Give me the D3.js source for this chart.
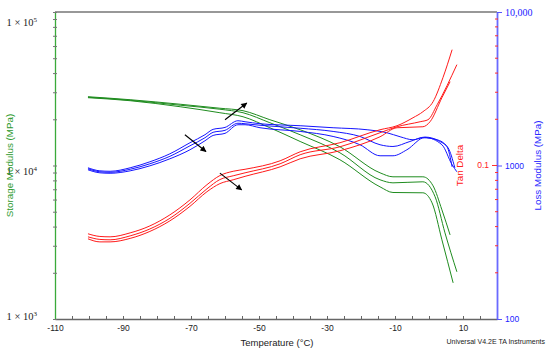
<!DOCTYPE html>
<html>
<head>
<meta charset="utf-8">
<script src="https://cdn.jsdelivr.net/npm/d3@7"></script>
<style>
  body { margin: 0; background: #fff; }
  text { font-family: "Liberation Sans", Arial, sans-serif; }
  .serif { font-family: "Liberation Serif", "Times New Roman", serif; }
</style>
</head>
<body>
<script>
// Chart data (temperature in C, value)
var storage1 = [[-100.3,28060],[-87.9,26830],[-73.2,25070],[-61.5,23610],[-54.7,22750],[-46.8,19870],[-37.9,17100],[-26.2,13240],[-14.4,8960],[-10.6,8440],[-1.8,8440],[1.2,7370],[3.8,5140],[6.2,3530]];
var storage2 = [[-100.3,27850],[-87.9,26620],[-73.2,24700],[-61.5,23260],[-54.7,22070],[-46.8,18990],[-37.9,15860],[-26.2,12100],[-14.4,8070],[-10.6,7710],[-1.8,7830],[1.8,6250],[4.7,3640],[8.2,2030]];
var storage3 = [[-100.3,27650],[-87.9,26430],[-73.2,24150],[-61.5,22070],[-54.7,20780],[-46.8,17620],[-37.9,14340],[-26.2,10900],[-14.4,7260],[-10.6,6670],[-1.8,6640],[0.9,5710],[3.8,3280],[7.1,1720]];

var loss1 = [[-100.3,966],[-96.8,923],[-93.8,917],[-87.9,966],[-82.1,1057],[-76.2,1192],[-70.3,1407],[-65.9,1586],[-63.5,1720],[-60.0,1770],[-56.2,1957],[-54.1,1928],[-49.7,1871],[-37.9,1816],[-28.2,1762],[-18.2,1710],[-12.4,1635],[-8.5,1539],[-4.7,1471],[-1.8,1516],[2.4,1471],[5.3,1324],[6.8,980]];
var loss2 = [[-100.3,952],[-96.8,910],[-93.8,903],[-87.9,945],[-82.1,1026],[-76.2,1148],[-70.3,1344],[-65.9,1516],[-63.5,1645],[-60.0,1695],[-56.2,1885],[-54.1,1871],[-49.7,1829],[-37.9,1749],[-28.2,1667],[-20.3,1546],[-14.4,1365],[-10.6,1330],[-5.6,1434],[-1.2,1532],[3.2,1434],[5.6,1305],[7.6,966]];
var loss3 = [[-100.3,938],[-96.8,896],[-93.8,890],[-87.9,923],[-82.1,995],[-76.2,1106],[-70.3,1266],[-65.9,1449],[-63.5,1570],[-60.0,1620],[-56.2,1843],[-54.1,1843],[-49.7,1762],[-37.9,1667],[-28.2,1546],[-20.3,1365],[-14.4,1157],[-10.6,1157],[-6.5,1266],[-1.2,1523],[3.8,1365],[6.8,1011],[8.2,910]];

var tan1 = [[-100.3,0.0359],[-96.8,0.0345],[-93.8,0.0343],[-87.9,0.0364],[-82.1,0.0404],[-76.2,0.0477],[-70.3,0.0597],[-65.3,0.0750],[-61.5,0.0860],[-57.6,0.0917],[-54.1,0.0945],[-43.8,0.1073],[-37.9,0.1228],[-26.2,0.1407],[-14.4,0.1710],[-9.4,0.1816],[-4.7,0.2047],[-1.8,0.2240],[1.2,0.2604],[4.1,0.3734],[6.8,0.5684]];
var tan2 = [[-100.3,0.0343],[-96.8,0.0330],[-93.8,0.0328],[-87.9,0.0348],[-82.1,0.0386],[-76.2,0.0453],[-70.3,0.0567],[-65.3,0.0705],[-61.5,0.0810],[-57.6,0.0857],[-54.1,0.0896],[-43.8,0.1026],[-37.9,0.1175],[-26.2,0.1324],[-14.4,0.1635],[-9.4,0.1788],[-2.6,0.1928],[-0.3,0.1987],[2.4,0.2489],[8.2,0.4540]];
var tan3 = [[-100.3,0.0333],[-96.8,0.0318],[-93.8,0.0318],[-87.9,0.0335],[-82.1,0.0372],[-76.2,0.0436],[-70.3,0.0542],[-65.3,0.0675],[-61.5,0.0762],[-57.6,0.0807],[-54.1,0.0850],[-43.8,0.0980],[-37.9,0.1106],[-26.2,0.1247],[-14.4,0.1539],[-9.4,0.1762],[-1.8,0.1788],[0.3,0.1928],[3.8,0.2765],[6.2,0.3516]];

// arrows (start, end) in each quantity's own units
var storageArrow = [[-60.0,19860],[-53.6,25530]];
var lossArrow = [[-71.8,1586],[-65.6,1233]];
var tanArrow = [[-61.5,0.0892],[-55.1,0.0694]];

// tick labels
var tempLabels = [-110,-90,-70,-50,-30,-10,10];
var storageLabels = [1e3,1e4,1e5];
var lossLabels = [100,1000,10000];
var tanLabels = [0.1];

// SVG area
var svgWidth = 550;
var svgHeight = 351;
var margin = { top: 12, right: 53, bottom: 32, left: 55 };
var chartWidth = svgWidth - margin.left - margin.right;
var chartHeight = svgHeight - margin.top - margin.bottom;

var svg = d3.select("body")
  .append("svg")
  .attr("width", svgWidth)
  .attr("height", svgHeight);

var defs = svg.append("defs");
defs.append("marker")
  .attr("id", "head")
  .attr("viewBox", "0 0 10 10")
  .attr("refX", 9)
  .attr("refY", 5)
  .attr("markerWidth", 7)
  .attr("markerHeight", 6)
  .attr("markerUnits", "userSpaceOnUse")
  .attr("orient", "auto")
  .append("path")
  .attr("d", "M0,0L10,5L0,10z")
  .attr("fill", "#000");

var chartGroup = svg.append("g")
  .attr("transform", `translate(${margin.left}, ${margin.top})`);

// scales
var xScale = d3.scaleLinear().domain([-110, 20]).range([0, chartWidth]);
var yStorage = d3.scaleLog().domain([1e3, 1e5]).range([chartHeight, 0]);
var yLoss = d3.scaleLog().domain([100, 10000]).range([chartHeight, 0]);
var yTan = d3.scaleLog().domain([0.01, 1]).range([chartHeight, 0]);

// minor log ticks
function logTicks(lo, hi) {
  var out = [];
  for (var p = lo; p < hi; p *= 10) {
    for (var k = 1; k < 10; k++) out.push(p * k);
  }
  out.push(hi);
  return out;
}

// top border
chartGroup.append("line")
  .attr("x1", 0).attr("x2", chartWidth)
  .attr("y1", 0).attr("y2", 0)
  .attr("stroke", "#333").attr("stroke-width", 1.2);

// bottom axis
var bottomAxis = d3.axisBottom(xScale)
  .tickValues(d3.range(-110, 20, 5))
  .tickSizeInner(-3)
  .tickSizeOuter(0)
  .tickPadding(6)
  .tickFormat(d => tempLabels.includes(d) ? String(d) : "");

var xg = chartGroup.append("g")
  .attr("transform", `translate(0, ${chartHeight})`)
  .call(bottomAxis);
xg.select(".domain").attr("stroke", "#666").attr("stroke-width", 1.3);
xg.selectAll(".tick line").attr("stroke", "#666");
xg.selectAll(".tick text").attr("font-size", 8.5).attr("fill", "#222");

// left axis (storage)
var leftAxis = d3.axisLeft(yStorage)
  .tickValues(logTicks(1e3, 1e5))
  .tickSizeInner(-2)
  .tickSizeOuter(0)
  .tickFormat("");
var lg = chartGroup.append("g").call(leftAxis);
lg.select(".domain").attr("stroke", "#3aaa3a").attr("stroke-width", 1.3);
lg.selectAll(".tick line").attr("stroke", "#777").attr("x1", -2).attr("x2", 2);

var expLabel = chartGroup.selectAll(".storageLabel")
  .data(storageLabels)
  .enter()
  .append("text")
  .attr("class", "serif")
  .attr("text-anchor", "end")
  .attr("x", -18)
  .attr("y", d => Math.min(Math.max(yStorage(d) + 9, 14), 308))
  .attr("font-size", 10.5)
  .attr("fill", "#222");
expLabel.append("tspan").text("1 \u00d7 10");
expLabel.append("tspan")
  .attr("dy", -4)
  .attr("font-size", 7)
  .text(d => Math.round(Math.log10(d)));

// right axis (loss + tan delta)
var rightAxis = d3.axisRight(yLoss)
  .tickValues(lossLabels)
  .tickSizeInner(5)
  .tickSizeOuter(0)
  .tickPadding(3)
  .tickFormat(d => d === 10000 ? "10,000" : String(d));
var rg = chartGroup.append("g")
  .attr("transform", `translate(${chartWidth}, 0)`)
  .call(rightAxis);
rg.select(".domain").attr("stroke", "#6a6aff").attr("stroke-width", 1.8);
rg.selectAll(".tick line").attr("stroke", "#5555ff");
rg.selectAll(".tick text")
  .attr("fill", "#2222ff")
  .attr("class", d => d === 10000 ? "serif" : null)
  .attr("font-size", d => d === 10000 ? 10 : 8.5);

// tan delta minor ticks on the right axis
chartGroup.append("g")
  .selectAll("line")
  .data(logTicks(0.01, 1).filter(d => !tanLabels.includes(d) && d > 0.01 && d < 1))
  .enter()
  .append("line")
  .attr("x1", chartWidth - 2)
  .attr("x2", chartWidth + 1)
  .attr("y1", d => yTan(d))
  .attr("y2", d => yTan(d))
  .attr("stroke", "#ff3030");

chartGroup.selectAll(".tanTick")
  .data(tanLabels)
  .enter()
  .append("line")
  .attr("x1", chartWidth - 5)
  .attr("x2", chartWidth)
  .attr("y1", d => yTan(d))
  .attr("y2", d => yTan(d))
  .attr("stroke", "#ff3030");

chartGroup.selectAll(".tanLabel")
  .data(tanLabels)
  .enter()
  .append("text")
  .attr("x", chartWidth - 8)
  .attr("y", d => yTan(d))
  .attr("dy", "0.32em")
  .attr("text-anchor", "end")
  .attr("font-size", 8.5)
  .attr("fill", "#ff2020")
  .text(d => String(d));

// curves
var curveBuilder = function(yScale) {
  return d3.line()
    .x(d => xScale(d[0]))
    .y(d => yScale(d[1]))
    .curve(d3.curveMonotoneX);
};

var plotLines = [
  { data: storage1, scale: yStorage, color: "#1f8c1f" },
  { data: storage2, scale: yStorage, color: "#1f8c1f" },
  { data: storage3, scale: yStorage, color: "#1f8c1f" },
  { data: loss1, scale: yLoss, color: "#1414ff" },
  { data: loss2, scale: yLoss, color: "#1414ff" },
  { data: loss3, scale: yLoss, color: "#1414ff" },
  { data: tan1, scale: yTan, color: "#ff1a1a" },
  { data: tan2, scale: yTan, color: "#ff1a1a" },
  { data: tan3, scale: yTan, color: "#ff1a1a" }
];

plotLines.forEach(function(s) {
  chartGroup.append("path")
    .attr("d", curveBuilder(s.scale)(s.data))
    .attr("fill", "none")
    .attr("stroke", s.color)
    .attr("stroke-width", 1);
});

// arrows
[[storageArrow, yStorage], [lossArrow, yLoss], [tanArrow, yTan]].forEach(function(a) {
  var pts = a[0], sc = a[1];
  chartGroup.append("line")
    .attr("x1", xScale(pts[0][0]))
    .attr("y1", sc(pts[0][1]))
    .attr("x2", xScale(pts[1][0]))
    .attr("y2", sc(pts[1][1]))
    .attr("stroke", "#000")
    .attr("stroke-width", 1.1)
    .attr("marker-end", "url(#head)");
});

// axis titles
svg.append("text")
  .attr("transform", `translate(13, ${margin.top + chartHeight / 2}) rotate(-90)`)
  .attr("text-anchor", "middle")
  .attr("font-size", 9.8)
  .attr("fill", "#2e9a2e")
  .text("Storage Modulus (MPa)");

svg.append("text")
  .attr("transform", `translate(541, ${margin.top + chartHeight / 2}) rotate(-90)`)
  .attr("text-anchor", "middle")
  .attr("font-size", 9.8)
  .attr("fill", "#2a2aff")
  .text("Loss Modulus (MPa)");

svg.append("text")
  .attr("transform", `translate(463, ${margin.top + chartHeight / 2}) rotate(-90)`)
  .attr("text-anchor", "middle")
  .attr("font-size", 9.8)
  .attr("fill", "#ff2020")
  .text("Tan Delta");

svg.append("text")
  .attr("x", 277)
  .attr("y", 346)
  .attr("text-anchor", "middle")
  .attr("font-size", 9.5)
  .attr("fill", "#222")
  .text("Temperature (\u00b0C)");

svg.append("text")
  .attr("x", 545)
  .attr("y", 344)
  .attr("text-anchor", "end")
  .attr("font-size", 7)
  .attr("fill", "#222")
  .text("Universal V4.2E TA Instruments");
</script>
</body>
</html>
